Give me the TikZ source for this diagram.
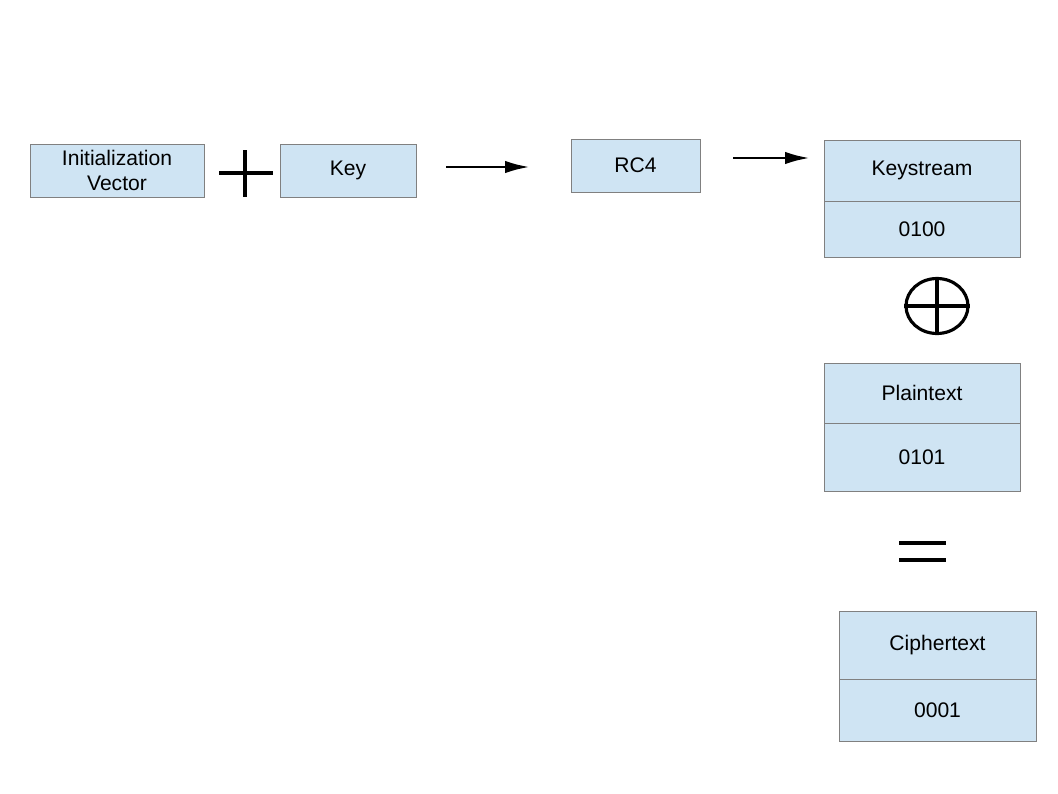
\documentclass[tikz,border=0pt]{standalone}
\usepackage{fontspec}
\setmainfont{Liberation Sans}
\usetikzlibrary{positioning,arrows.meta,shapes.geometric}
\definecolor{boxfill}{RGB}{207,228,243}
\definecolor{boxline}{RGB}{128,128,128}

\begin{document}
\begin{tikzpicture}[
    x=0.02cm, y=-0.02cm,
    box/.style={draw=boxline, fill=boxfill, inner sep=0pt, align=center, font=\fontsize{12}{14}\selectfont},
    arrow/.style={-{Latex[length=0.5cm,width=0.25cm]}, line width=1.7pt},
    op/.style={line width=1.8pt}
]
\useasboundingbox (0,0) rectangle (1058,794);

% ========== TOP ROW ==========
\node[box, minimum width=3.48cm, minimum height=1.06cm] (iv) at (117,170.5) {Initialization\\Vector};
\node[box, minimum width=2.72cm, minimum height=1.06cm] (key) at (348,170.5) {Key};
\node[box, minimum width=2.58cm, minimum height=1.06cm] (rc4) at (635.5,165.5) {RC4};

% plus sign
\coordinate (plus) at (245,173);
\draw[op] ([xshift=-0.52cm]plus) -- ([xshift=0.56cm]plus);
\draw[op] ([yshift=0.46cm]plus) -- ([yshift=-0.48cm]plus);

\coordinate (a1s) at (446,167);
\coordinate (a1e) at (530,167);
\draw[arrow] (a1s) -- (a1e);
\coordinate (a2s) at (733,158);
\coordinate (a2e) at (810,158);
\draw[arrow] (a2s) -- (a2e);

% ========== RIGHT COLUMN ==========
\node[box, minimum width=3.92cm, minimum height=1.22cm] (ks) at (922,170.5) {Keystream};
\node[box, minimum width=3.92cm, minimum height=1.12cm, below=0pt of ks] (ksv) {0100};

\node[draw, op, ellipse, minimum width=1.24cm, minimum height=1.1cm, inner sep=0pt] (xor) at (937,306) {};
\draw[op] (xor.north) -- (xor.south);
\draw[op] (xor.west) -- (xor.east);

\node[box, minimum width=3.92cm, minimum height=1.2cm] (pt) at (922,393) {Plaintext};
\node[box, minimum width=3.92cm, minimum height=1.36cm, below=0pt of pt] (ptv) {0101};

\coordinate (eq) at (922.5,551.5);
\draw[op] ([shift={(-0.47cm,-0.17cm)}]eq) -- ([shift={(0.47cm,-0.17cm)}]eq);
\draw[op] ([shift={(-0.47cm,0.17cm)}]eq) -- ([shift={(0.47cm,0.17cm)}]eq);

\node[box, minimum width=3.94cm, minimum height=1.36cm] (ct) at (937.5,645) {Ciphertext};
\node[box, minimum width=3.94cm, minimum height=1.24cm, below=0pt of ct] (ctv) {0001};

\end{tikzpicture}
\end{document}
